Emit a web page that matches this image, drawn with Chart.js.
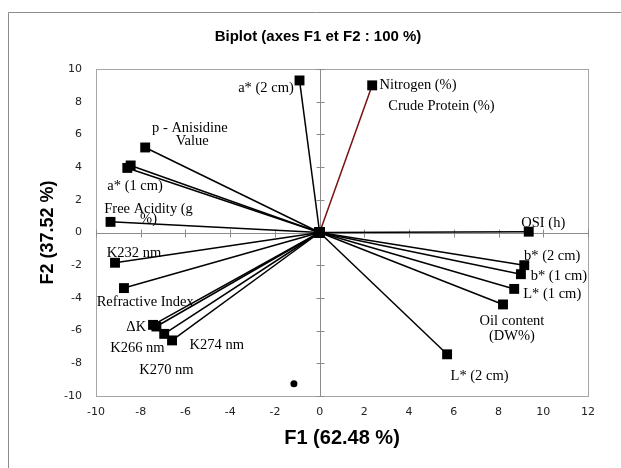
<!DOCTYPE html>
<html>
<head>
<meta charset="utf-8">
<script src="https://cdn.jsdelivr.net/npm/chart.js@4"></script>
<style>
  html, body { margin: 0; padding: 0; background: #fff; }
  #wrap { width: 621px; height: 468px; position: relative; }
</style>
</head>
<body>
<div id="wrap"><canvas id="biplot" width="621" height="468"></canvas></div>
<script>
// variables (F1, F2 coordinates)
const variables = ['a* (2 cm)', 'p - Anisidine Value', 'a* (1 cm)', 'a* (1 cm) b', 'Free Acidity (g %)', 'K232 nm',
  'Refractive Index', 'ΔK', 'ΔK b', 'K266 nm', 'K274 nm', 'Nitrogen (%)', 'OSI (h)', 'b* (2 cm)', 'b* (1 cm)',
  'L* (1 cm)', 'Oil content (DW%)', 'L* (2 cm)'];
const f1 = [-0.9, -7.8, -8.45, -8.6, -9.35, -9.15, -8.75, -7.45, -7.3, -6.95, -6.6, 2.35, 9.35, 9.15, 9.0, 8.7, 8.2, 5.7];
const f2 = [9.3, 5.2, 4.1, 3.95, 0.65, -1.85, -3.4, -5.65, -5.75, -6.2, -6.6, 9.0, 0.05, -2.0, -2.55, -3.45, -4.4, -7.45];

// lone observation point
const obsF1 = [-1.15];
const obsF2 = [-9.25];

// label texts and where they sit (in F1/F2 units)
const labelText = ['a* (2 cm)', 'p - Anisidine', 'Value', 'a* (1 cm)', 'Free Acidity (g', '%)', 'K232 nm',
  'Refractive Index', 'ΔK', 'K266 nm', 'K274 nm', 'K270 nm', 'Nitrogen (%)', 'Crude Protein (%)', 'OSI (h)',
  'b* (2 cm)', 'b* (1 cm)', 'L* (1 cm)', 'Oil content', '(DW%)', 'L* (2 cm)'];
const labelF1 = [-2.4, -5.8, -5.7, -8.25, -7.65, -7.65, -8.3, -7.8, -8.2, -8.15, -4.6, -6.85, 4.4, 5.45, 10.0,
  10.4, 10.7, 10.4, 8.6, 8.6, 7.15];
const labelF2 = [8.8, 6.4, 5.6, 2.85, 1.4, 0.8, -1.25, -4.25, -5.8, -7.1, -6.9, -8.45, 9.0, 7.75, 0.6,
  -1.45, -2.65, -3.75, -5.4, -6.35, -8.8];

const xTicks = [-10, -8, -6, -4, -2, 0, 2, 4, 6, 8, 10, 12];
const yTicks = [-10, -8, -6, -4, -2, 0, 2, 4, 6, 8, 10];
const chartTitle = 'Biplot (axes F1 et F2 : 100 %)';

const datasets = variables.map((name, i) => ({
  label: name,
  data: [{ x: 0, y: 0 }, { x: f1[i], y: f2[i] }],
  showLine: true,
  borderColor: name.startsWith('Nitrogen') ? '#7a1010' : '#000',
  borderWidth: 1.5,
  pointStyle: 'rect',
  pointRadius: 7,
  pointBackgroundColor: '#000',
  pointBorderColor: '#000',
  pointBorderWidth: 0
}));
datasets.push({
  label: 'obs',
  data: obsF1.map((x, i) => ({ x: x, y: obsF2[i] })),
  pointStyle: 'circle',
  pointRadius: 3.5,
  pointBackgroundColor: '#000',
  pointBorderWidth: 0
});

// frame, title, centre axes and labels
const biplotDeco = {
  id: 'biplotDeco',
  beforeDatasetsDraw(chart) {
    const { ctx, chartArea: a, scales: { x, y } } = chart;
    ctx.save();
    // outer frame (top and left visible)
    ctx.strokeStyle = '#8c8c8c';
    ctx.lineWidth = 1;
    ctx.beginPath();
    ctx.moveTo(8.5, 470); ctx.lineTo(8.5, 12.5); ctx.lineTo(625, 12.5);
    ctx.stroke();
    // title
    ctx.fillStyle = '#000';
    ctx.font = 'bold 15px "Liberation Sans", Arial, sans-serif';
    ctx.textAlign = 'center';
    ctx.textBaseline = 'middle';
    ctx.fillText(chartTitle, 318, 37);
    // plot box
    ctx.strokeStyle = '#a6a6a6';
    ctx.strokeRect(a.left + 0.5, a.top + 0.5, a.right - a.left, a.bottom - a.top);
    // centre axes
    const x0 = Math.round(x.getPixelForValue(0)) + 0.5;
    const y0 = Math.round(y.getPixelForValue(0)) + 0.5;
    ctx.strokeStyle = '#8c8c8c';
    ctx.beginPath();
    ctx.moveTo(a.left, y0); ctx.lineTo(a.right, y0);
    ctx.moveTo(x0, a.top); ctx.lineTo(x0, a.bottom);
    xTicks.forEach(v => {
      if (v === 0) return;
      const px = Math.round(x.getPixelForValue(v)) + 0.5;
      ctx.moveTo(px, y0 - 4); ctx.lineTo(px, y0 + 4);
    });
    yTicks.forEach(v => {
      if (v === 0) return;
      const py = Math.round(y.getPixelForValue(v)) + 0.5;
      ctx.moveTo(x0 - 4, py); ctx.lineTo(x0 + 4, py);
    });
    ctx.stroke();
    ctx.restore();
  },
  afterDatasetsDraw(chart) {
    const { ctx, scales: { x, y } } = chart;
    ctx.save();
    ctx.fillStyle = '#000';
    ctx.font = '14.5px "Liberation Serif", serif';
    ctx.textAlign = 'center';
    ctx.textBaseline = 'middle';
    labelText.forEach((t, i) => {
      ctx.fillText(t, x.getPixelForValue(labelF1[i]), y.getPixelForValue(labelF2[i]));
    });
    ctx.restore();
  }
};

new Chart(document.getElementById('biplot'), {
  type: 'scatter',
  data: { datasets: datasets },
  plugins: [biplotDeco],
  options: {
    responsive: false,
    animation: false,
    layout: { padding: { left: 0, right: 33, top: 69, bottom: 0 } },
    plugins: {
      legend: { display: false },
      tooltip: { enabled: false },
      title: { display: false }
    },
    scales: {
      x: {
        type: 'linear',
        min: -10, max: 12,
        afterBuildTicks: s => { s.ticks = xTicks.map(v => ({ value: v })); },
        afterFit: s => { s.height = 72; },
        grid: { display: false, drawTicks: false },
        border: { display: false },
        ticks: { color: '#222', padding: 10, font: { family: '"DejaVu Sans", Verdana, sans-serif', size: 11 } },
        title: {
          display: true, text: 'F1 (62.48 %)', color: '#000',
          font: { family: '"Liberation Sans", Arial, sans-serif', size: 20, weight: 'bold' },
          padding: { top: 0, bottom: 18 }
        }
      },
      y: {
        type: 'linear',
        min: -10, max: 10,
        afterBuildTicks: s => { s.ticks = yTicks.map(v => ({ value: v })); },
        afterFit: s => { s.width = 96; },
        grid: { display: false, drawTicks: false },
        border: { display: false },
        ticks: { color: '#222', padding: 14, font: { family: '"DejaVu Sans", Verdana, sans-serif', size: 11 } },
        title: {
          display: true, text: 'F2 (37.52 %)', color: '#000',
          font: { family: '"Liberation Sans", Arial, sans-serif', size: 18, weight: 'bold' },
          padding: { top: 37, bottom: 0 }
        }
      }
    }
  }
});
</script>
</body>
</html>
